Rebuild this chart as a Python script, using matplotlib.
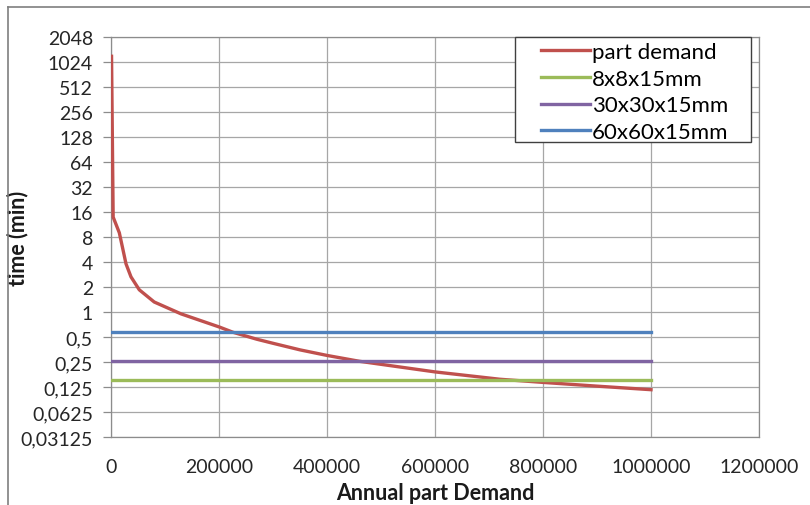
import matplotlib
matplotlib.use("Agg")
import matplotlib.pyplot as plt
from matplotlib.lines import Line2D
from matplotlib.patches import Rectangle

# values
demand = [1000, 4000, 15400, 21500, 27800, 37000, 52400, 80000, 129600,
          200500, 226000, 270000, 300000, 350000, 400000, 460000, 530000,
          600000, 720000, 800000, 900000, 1000000]
time_min = [1200, 13.9, 9.0, 5.9, 3.8, 2.65, 1.85, 1.32, 0.95,
            0.66, 0.57, 0.47, 0.42, 0.35, 0.30, 0.255, 0.22,
            0.19, 0.155, 0.142, 0.128, 0.116]

flat_x = [0, 1000000]
t_8x8 = [0.152, 0.152]
t_30x30 = [0.257, 0.257]
t_60x60 = [0.574, 0.574]

y_ticks = [2.0 ** k for k in range(-5, 12)]
y_labels = ["0,03125", "0,0625", "0,125", "0,25", "0,5", "1", "2", "4", "8",
            "16", "32", "64", "128", "256", "512", "1024", "2048"]
x_ticks = [0, 200000, 400000, 600000, 800000, 1000000, 1200000]

plt.rcParams['font.family'] = ['Lato', 'DejaVu Sans']

fig = plt.figure(figsize=(8.1, 5.06), dpi=100)
ax = fig.add_axes([111 / 810, 1 - 438 / 506, 648 / 810, 400 / 506])

ax.plot(demand, time_min, color='#C0504D', lw=2.4, label='part demand', zorder=3,
        solid_joinstyle='round')
ax.plot(flat_x, t_8x8, color='#9BBB59', lw=2.4, label='8x8x15mm', zorder=3)
ax.plot(flat_x, t_30x30, color='#8064A2', lw=2.4, label='30x30x15mm', zorder=3)
ax.plot(flat_x, t_60x60, color='#4F81BD', lw=2.4, label='60x60x15mm', zorder=3)

ax.set_yscale('log', base=2)
ax.set_ylim(2 ** -5, 2 ** 11)
ax.set_xlim(0, 1200000)
ax.set_yticks(y_ticks)
ax.set_yticklabels(y_labels)
ax.minorticks_off()
ax.set_xticks(x_ticks)
ax.set_xticklabels([str(v) for v in x_ticks])

ax.grid(True, color='#a6a6a6', lw=0.9)
ax.set_axisbelow(True)
for s in ax.spines.values():
    s.set_color('#8c8c8c')
    s.set_linewidth(0.9)

ax.tick_params(axis='y', length=6, width=0.9, color='#8c8c8c', pad=7,
               labelsize=14, labelcolor='#262626')
ax.tick_params(axis='x', length=0, pad=15, labelsize=14, labelcolor='#262626')

ax.set_xlabel('Annual part Demand', fontsize=15.5, fontweight='bold',
              color='#1a1a1a', labelpad=5)
ax.set_ylabel('time (min)', fontsize=15.5, fontweight='bold', color='#1a1a1a')
ax.yaxis.set_label_coords((28 - 111) / 648, 0.5)

# legend frame drawn separately so the inner padding matches the reference
ax.add_patch(Rectangle(((515 - 111) / 648, (438 - 143) / 400), 236 / 648, 105 / 400,
                       transform=ax.transAxes, facecolor='white', edgecolor='#404040',
                       lw=1.0, zorder=4, clip_on=False))
leg = ax.legend(loc='upper left', bbox_to_anchor=((541 - 111) / 648, (438 - 43) / 400),
                borderaxespad=0, fontsize=16, frameon=False,
                handlelength=2.2, handletextpad=0.1, labelspacing=0.3,
                borderpad=0.0)
leg.set_zorder(5)

# outer chart frame (left and top edges visible in the reference)
fig.add_artist(Line2D([8 / 810, 8 / 810], [0, 1 - 8 / 506], color='#7f7f7f',
                      lw=1.2, transform=fig.transFigure))
fig.add_artist(Line2D([8 / 810, 1], [1 - 8 / 506, 1 - 8 / 506], color='#7f7f7f',
                      lw=1.2, transform=fig.transFigure))

fig.savefig('out.png', dpi=100)
